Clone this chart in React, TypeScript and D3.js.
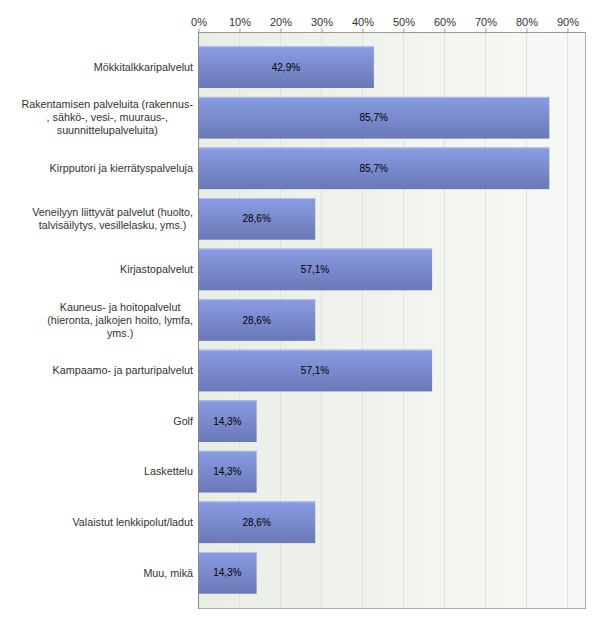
import * as d3 from 'd3';
import { useEffect, useRef } from 'react';

const categories: string[][] = [
  ['Mökkitalkkaripalvelut'],
  ['Rakentamisen palveluita (rakennus-', ', sähkö-, vesi-, muuraus-,', 'suunnittelupalveluita)'],
  ['Kirpputori ja kierrätyspalveluja'],
  ['Veneilyyn liittyvät palvelut (huolto,', 'talvisäilytys, vesillelasku, yms.)'],
  ['Kirjastopalvelut'],
  ['Kauneus- ja hoitopalvelut', '(hieronta, jalkojen hoito, lymfa,', 'yms.)'],
  ['Kampaamo- ja parturipalvelut'],
  ['Golf'],
  ['Laskettelu'],
  ['Valaistut lenkkipolut/ladut'],
  ['Muu, mikä'],
];
const values = [42.9, 85.7, 85.7, 28.6, 57.1, 28.6, 57.1, 14.3, 14.3, 28.6, 14.3];
const tickValues = [0, 10, 20, 30, 40, 50, 60, 70, 80, 90];

export default function App() {
  const ref = useRef<SVGSVGElement | null>(null);

  useEffect(() => {
    if (!ref.current) return;
    const width = 600;
    const height = 623;
    const left = 198;
    const right = 585;
    const top = 32;
    const bottom = 608;
    const font = 'Arial, "Liberation Sans", sans-serif';

    const svg = d3.select(ref.current).attr('width', width).attr('height', height);
    svg.selectAll('*').remove();

    const x = d3.scaleLinear().domain([0, 94.4]).range([left, right]);
    const y = d3
      .scaleBand<number>()
      .domain(d3.range(values.length))
      .range([top, bottom])
      .paddingInner(0.175)
      .paddingOuter(0.283);

    const defs = svg.append('defs');
    const bg = defs.append('linearGradient').attr('id', 'bg').attr('x1', 0).attr('x2', 1).attr('y1', 0).attr('y2', 0);
    bg.append('stop').attr('offset', 0).attr('stop-color', '#e9eee5');
    bg.append('stop').attr('offset', 1).attr('stop-color', '#f7f9f6');
    const bar = defs.append('linearGradient').attr('id', 'bar').attr('x1', 0).attr('x2', 0).attr('y1', 0).attr('y2', 1);
    bar.append('stop').attr('offset', 0).attr('stop-color', '#8a9ce4');
    bar.append('stop').attr('offset', 1).attr('stop-color', '#6a78b6');

    // plot background
    svg.append('rect').attr('x', left).attr('y', top).attr('width', right - left).attr('height', bottom - top).attr('fill', 'url(#bg)');

    // grid lines
    svg
      .append('g')
      .selectAll('line')
      .data(tickValues.slice(1))
      .join('line')
      .attr('x1', (d) => x(d) + 0.5)
      .attr('x2', (d) => x(d) + 0.5)
      .attr('y1', top)
      .attr('y2', bottom)
      .attr('stroke', '#dfe2dc');

    // top axis
    const axis = svg
      .append('g')
      .attr('transform', `translate(0.5,${top + 0.5})`)
      .call(
        d3
          .axisTop(x)
          .tickValues(tickValues)
          .tickSize(4)
          .tickSizeOuter(0)
          .tickFormat((d) => `${d}%`)
      );
    axis.select('.domain').remove();
    axis.selectAll('line').attr('stroke', '#999');
    axis.selectAll('text').attr('font-family', font).attr('font-size', 11).attr('fill', '#333').attr('dy', '0');

    // borders
    svg.append('line').attr('x1', left).attr('x2', right).attr('y1', top + 0.5).attr('y2', top + 0.5).attr('stroke', '#999');
    svg.append('line').attr('x1', left).attr('x2', right + 1).attr('y1', bottom + 0.5).attr('y2', bottom + 0.5).attr('stroke', '#aaa');
    svg.append('line').attr('x1', right + 0.5).attr('x2', right + 0.5).attr('y1', top).attr('y2', bottom).attr('stroke', '#aaa');

    // bars
    const g = svg.append('g');
    g.selectAll('rect.bar')
      .data(values)
      .join('rect')
      .attr('class', 'bar')
      .attr('x', left)
      .attr('y', (_, i) => y(i)!)
      .attr('width', (d) => x(d) - left)
      .attr('height', y.bandwidth())
      .attr('fill', 'url(#bar)');
    g.selectAll('line.hl')
      .data(values)
      .join('line')
      .attr('class', 'hl')
      .attr('x1', left)
      .attr('x2', (d) => x(d))
      .attr('y1', (_, i) => y(i)! + 0.5)
      .attr('y2', (_, i) => y(i)! + 0.5)
      .attr('stroke', '#b4bfea');

    // value labels
    g.selectAll('text.val')
      .data(values)
      .join('text')
      .attr('class', 'val')
      .attr('x', (d) => (left + x(d)) / 2)
      .attr('y', (_, i) => y(i)! + y.bandwidth() / 2)
      .attr('dy', '0.35em')
      .attr('text-anchor', 'middle')
      .attr('font-family', font)
      .attr('font-size', 10)
      .attr('fill', '#000')
      .text((d) => `${d.toFixed(1).replace('.', ',')}%`);

    // left border (drawn over bars)
    svg.append('line').attr('x1', left + 0.5).attr('x2', left + 0.5).attr('y1', top).attr('y2', bottom + 1).attr('stroke', '#888');

    // category labels: lines centred within a block that is right-aligned
    const lineH = 13;
    categories.forEach((lines, i) => {
      const cy = y(i)! + y.bandwidth() / 2;
      const t = svg
        .append('text')
        .attr('font-family', font)
        .attr('font-size', 10.75)
        .attr('fill', '#333')
        .attr('text-anchor', 'middle');
      const spans = lines.map((line, j) =>
        t
          .append('tspan')
          .attr('y', cy + (j - (lines.length - 1) / 2) * lineH)
          .attr('dy', '0.35em')
          .text(line)
      );
      const maxW = d3.max(spans, (s) => (s.node() as SVGTSpanElement).getComputedTextLength()) ?? 0;
      const cx = left - 5 - maxW / 2;
      spans.forEach((s) => s.attr('x', cx));
    });
  }, []);

  return <svg ref={ref} style={{ position: 'absolute', left: 0, top: 0 }} />;
}
